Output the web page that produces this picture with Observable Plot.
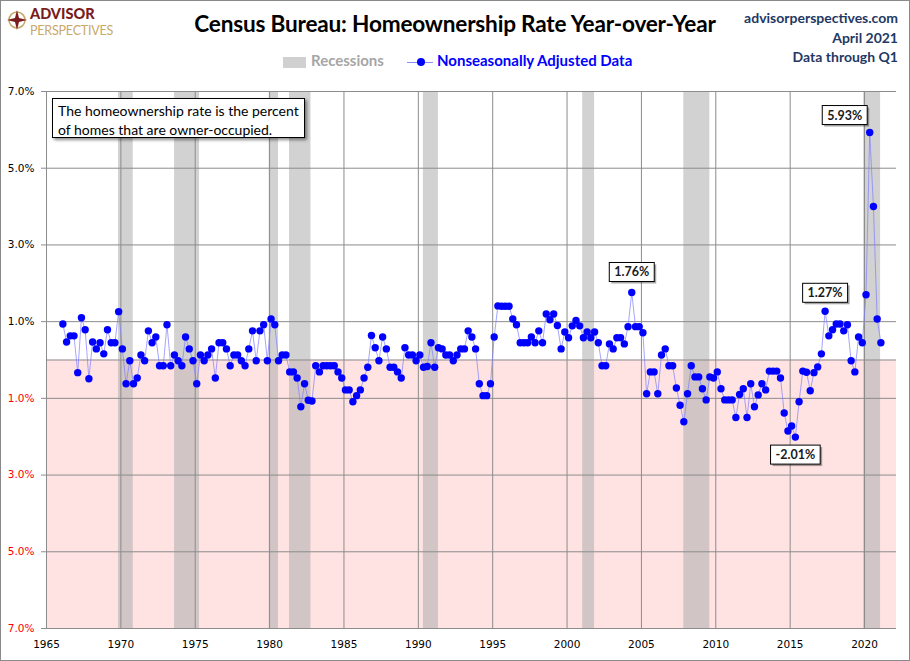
<!DOCTYPE html>
<html><head><meta charset="utf-8">
<script src="https://cdn.jsdelivr.net/npm/d3@7"></script>
<script src="https://cdn.jsdelivr.net/npm/@observablehq/plot@0.6"></script>
<style>
body{margin:0;background:#fff;}
#wrap{position:relative;width:910px;height:661px;overflow:hidden;background:#fff;font-family:Lato,"Noto Sans",sans-serif;}
#header{position:relative;height:80px;}
#title{position:absolute;left:0;right:0;top:10px;text-align:center;font-size:22.6px;font-weight:700;color:#000;letter-spacing:-0.2px;}
#site{position:absolute;right:12px;top:8px;text-align:right;color:#1f3864;font-size:14px;font-weight:700;line-height:19.5px;}
#logo{position:absolute;left:6px;top:4px;}
#legend{position:absolute;top:51px;left:283px;height:20px;font-size:15px;font-weight:700;white-space:nowrap;}
#legend span{position:absolute;top:0;}
#note{position:absolute;left:52px;top:98px;width:246px;height:34px;border:1px solid #000;background:#fff;box-shadow:2px 2px 3px rgba(0,0,0,0.45);padding:2px 0 2px 5px;font-size:14px;line-height:19px;color:#000;white-space:nowrap;}
#border{position:absolute;left:0;top:0;width:908px;height:659px;border:1px solid #8a8a8a;pointer-events:none;}
#chart{position:absolute;left:0;top:80px;}
</style></head><body>
<div id="wrap">
  <div id="header">
    <svg id="logo" width="130" height="34" viewBox="0 0 130 34">
      <circle cx="11" cy="16" r="8" fill="none" stroke="#c9a86a" stroke-width="1.6"/>
      <path d="M11 6 L13 14 L21 16 L13 18 L11 26 L9 18 L1 16 L9 14 Z" fill="#7b1c1c"/>
      <text x="24" y="15" font-family="Lato, sans-serif" font-weight="900" font-size="14.5" fill="#7b1c1c">ADVISOR</text>
      <text x="24" y="30.5" font-family="Lato, sans-serif" font-weight="400" font-size="12.5" fill="#c9a86a" letter-spacing="-0.2">PERSPECTIVES</text>
    </svg>
    <div id="title">Census Bureau: Homeownership Rate Year-over-Year</div>
    <div id="site">advisorperspectives.com<br>April 2021<br>Data through Q1</div>
    <div id="legend">
      <span style="left:0;top:6px;width:23px;height:11px;background:#d0d0d0;"></span>
      <span style="left:28px;color:#a6a6a6;">Recessions</span>
      <span style="left:124px;top:11px;width:26px;height:1px;background:#8c8cff;"></span>
      <span style="left:134px;top:7px;width:8px;height:8px;border-radius:50%;background:#0000ff;"></span>
      <span style="left:154px;color:#0000ff;">Nonseasonally Adjusted Data</span>
    </div>
  </div>
  <div id="chart"></div>
  <div id="note">The homeownership rate is the percent<br>of homes that are owner-occupied.</div>
  <div id="border"></div>
</div>
<script>
// ---- data ----
const startYear = 1966; // first quarter: 1966 Q1
const yoyChange = [
  0.94, 0.47, 0.63, 0.63, -0.33, 1.10, 0.79, -0.49, 0.47, 0.29,
  0.45, 0.16, 0.79, 0.45, 0.45, 1.26, 0.29, -0.62, -0.02, -0.62,
  -0.47, 0.13, -0.02, 0.76, 0.45, 0.60, -0.15, -0.15, 0.92, -0.15,
  0.13, -0.02, -0.15, 0.60, 0.29, -0.02, -0.62, 0.13, -0.02, 0.13,
  0.29, -0.47, 0.45, 0.45, 0.29, -0.15, 0.13, 0.13, -0.02, -0.15,
  0.29, 0.76, -0.02, 0.76, 0.92, -0.02, 1.07, 0.92, -0.02, 0.13,
  0.13, -0.31, -0.31, -0.47, -1.22, -0.62, -1.05, -1.07, -0.15, -0.31,
  -0.15, -0.15, -0.15, -0.15, -0.31, -0.47, -0.78, -0.78, -1.09, -0.93,
  -0.78, -0.47, -0.19, 0.64, 0.32, -0.02, 0.60, 0.29, -0.19, -0.19,
  -0.31, -0.47, 0.32, 0.13, 0.13, -0.02, 0.13, -0.19, -0.17, 0.45,
  -0.19, 0.32, 0.29, 0.13, 0.13, -0.02, 0.13, 0.29, 0.29, 0.76,
  0.60, 0.29, -0.62, -0.93, -0.93, -0.62, 0.60, 1.41, 1.40, 1.40,
  1.40, 1.07, 0.92, 0.45, 0.45, 0.45, 0.60, 0.45, 0.76, 0.45,
  1.20, 1.05, 1.20, 0.90, 0.29, 0.73, 0.58, 0.89, 1.03, 0.89,
  0.58, 0.73, 0.58, 0.73, 0.45, -0.15, -0.15, 0.42, 0.29, 0.58,
  0.58, 0.42, 0.87, 1.76, 0.87, 0.87, 0.71, -0.88, -0.31, -0.31,
  -0.88, 0.13, 0.29, -0.15, -0.15, -0.73, -1.18, -1.61, -0.88, -0.15,
  -0.44, -0.44, -0.75, -1.04, -0.44, -0.47, -0.31, -0.75, -1.04, -1.04,
  -1.04, -1.50, -0.90, -0.75, -1.50, -0.62, -1.22, -0.91, -0.62, -0.78,
  -0.29, -0.29, -0.29, -0.47, -1.38, -1.85, -1.72, -2.01, -1.09, -0.29,
  -0.32, -0.80, -0.33, -0.18, 0.16, 1.27, 0.63, 0.79, 0.94, 0.94,
  0.76, 0.92, -0.02, -0.31, 0.60, 0.45, 1.70, 5.93, 4.00, 1.07,
  0.45
];
const recessionStart = [1969.84, 1973.61, 1979.97, 1981.34, 1990.34, 2001.05, 2007.85, 2019.94];
const recessionEnd   = [1970.83, 1975.29, 1980.60, 1982.78, 1991.35, 2001.85, 2009.60, 2021.08];
const xTicks = [1965, 1970, 1975, 1980, 1985, 1990, 1995, 2000, 2005, 2010, 2015, 2020];
const yTicks = [-7, -5, -3, -1, 1, 3, 5, 7];
const calloutQuarters = ["2004 Q2", "2015 Q2", "2017 Q2", "2020 Q2"];
const calloutLabels = ["1.76%", "-2.01%", "1.27%", "5.93%"];

// ---- derived table ----
const quarterOffset = 0.1;
const series = yoyChange.map((v, i) => {
  const y = startYear + Math.floor(i / 4), q = (i % 4) + 1;
  return {t: startYear + i / 4 + quarterOffset, v, key: `${y} Q${q}`};
});
const recessions = recessionStart.map((s, i) => ({x1: s, x2: recessionEnd[i]}));
const xDomain = [1965, 2022.15];
const yDomain = [-7, 7];
const callouts = calloutQuarters.map((k, i) => ({...series.find(d => d.key === k), label: calloutLabels[i]}));
const calloutOffset = {"1.76%": [0, -20], "-2.01%": [0, 18], "1.27%": [0, -18], "5.93%": [-25, -17]};

const plot = Plot.plot({
  width: 910, height: 581,
  marginTop: 11, marginBottom: 33, marginLeft: 46, marginRight: 14,
  style: {fontFamily: "'DejaVu Sans', sans-serif", fontSize: "10.5px", background: "transparent"},
  x: {type: "linear", domain: xDomain, axis: null},
  y: {domain: yDomain, axis: null},
  marks: [
    Plot.rect([{x1: xDomain[0], x2: xDomain[1], y1: yDomain[0], y2: 0}], {x1: "x1", x2: "x2", y1: "y1", y2: "y2", fill: "#ffe3e3"}),
    Plot.rect(recessions, {x1: "x1", x2: "x2", y1: yDomain[0], y2: yDomain[1], fill: "#a9a9a9", fillOpacity: 0.52}),
    Plot.ruleX(xTicks, {stroke: "#8c8c8c", strokeWidth: 1}),
    Plot.ruleY(yTicks, {stroke: "#8c8c8c", strokeWidth: 1, x1: xDomain[0], x2: xDomain[1]}),
    Plot.ruleY([0], {stroke: "#8c8c8c", strokeWidth: 1}),
    Plot.axisY(yTicks.filter(d => d > 0), {tickSize: 5, tickPadding: 7, stroke: "#8c8c8c", fill: "#000", tickFormat: d => Math.abs(d).toFixed(1) + "%", label: null}),
    Plot.axisY(yTicks.filter(d => d < 0), {tickSize: 5, tickPadding: 7, stroke: "#8c8c8c", fill: "#ff0000", tickFormat: d => Math.abs(d).toFixed(1) + "%", label: null}),
    Plot.axisX(xTicks, {tickSize: 0, tickPadding: 12, fill: "#000", tickFormat: d => String(d), label: null}),
    Plot.line(series, {x: "t", y: "v", stroke: "#7f7fff", strokeOpacity: 0.7, strokeWidth: 1}),
    Plot.dot(series, {x: "t", y: "v", r: 3.7, fill: "#0000ff", stroke: "none"}),
    ...callouts.map(c => Plot.text([c], {x: "t", y: "v", text: "label", dx: calloutOffset[c.label][0], dy: calloutOffset[c.label][1],
      fontSize: 12.5, fontWeight: "bold", fill: "#1a1a1a", fontFamily: "Lato, sans-serif", className: "callout"}))
  ]
});
document.getElementById("chart").appendChild(plot);

// boxes behind callout labels
document.querySelectorAll("g.callout text").forEach(t => {
  const b = t.getBBox();
  const ns = "http://www.w3.org/2000/svg";
  const padX = 5, padY = 2;
  const shadow = document.createElementNS(ns, "rect");
  shadow.setAttribute("x", b.x - padX + 2); shadow.setAttribute("y", b.y - padY + 2);
  shadow.setAttribute("width", b.width + 2 * padX); shadow.setAttribute("height", b.height + 2 * padY);
  shadow.setAttribute("fill", "rgba(0,0,0,0.35)");
  const box = document.createElementNS(ns, "rect");
  box.setAttribute("x", b.x - padX); box.setAttribute("y", b.y - padY);
  box.setAttribute("width", b.width + 2 * padX); box.setAttribute("height", b.height + 2 * padY);
  box.setAttribute("fill", "#fff"); box.setAttribute("stroke", "#000"); box.setAttribute("stroke-width", 1);
  const tr = t.getAttribute("transform");
  if (tr) { shadow.setAttribute("transform", tr); box.setAttribute("transform", tr); }
  t.parentNode.insertBefore(shadow, t);
  t.parentNode.insertBefore(box, t);
});
</script>
</body></html>
